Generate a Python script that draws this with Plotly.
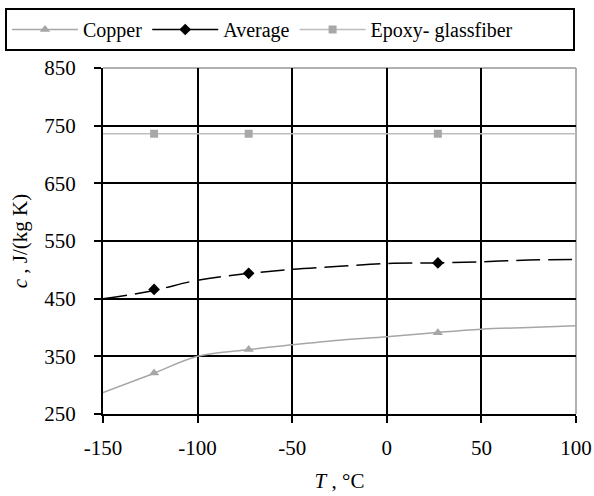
import plotly.graph_objects as go

# ---- data ----
T_curve = [-150, -125, -100, -75, -50, -25, 0, 25, 50, 75, 100]
copper_curve = [287, 318, 350, 361, 370, 378, 384, 391, 397, 400, 403]
average_curve = [450, 463, 482, 493, 501, 506, 511, 512, 514, 517, 518]
epoxy_curve = [736, 736, 736, 736, 736, 736, 736, 736, 736, 736, 736]

T_marks = [-123, -73, 27]
copper_marks = [321, 362, 391]
average_marks = [466, 494, 512]
epoxy_marks = [736, 736, 736]

series_names = ["Copper", "Average", "Epoxy- glassfiber"]

x_ticks = [-150, -100, -50, 0, 50, 100]
y_ticks = [250, 350, 450, 550, 650, 750, 850]

FONT = "Liberation Serif, Times New Roman, serif"
COPPER_C = "#a6a6a6"
EPOXY_LINE_C = "#bdbdbd"
EPOXY_MARK_C = "#a8a8a8"
AVG_C = "#000000"

fig = go.Figure()

styles = [
    dict(name=series_names[0], cx=T_curve, cy=copper_curve, mx=T_marks, my=copper_marks,
         line=dict(color=COPPER_C, width=1.5), marker=dict(symbol="triangle-up", size=9, color=COPPER_C)),
    dict(name=series_names[1], cx=T_curve, cy=average_curve, mx=T_marks, my=average_marks,
         line=dict(color=AVG_C, width=1.5, dash="24px,8px"), marker=dict(symbol="diamond", size=9, color=AVG_C)),
    dict(name=series_names[2] + "\u00a0" * 11, cx=T_curve, cy=epoxy_curve, mx=T_marks, my=epoxy_marks,
         line=dict(color=EPOXY_LINE_C, width=1.5), marker=dict(symbol="square", size=8, color=EPOXY_MARK_C)),
]

for s in styles:
    fig.add_trace(go.Scatter(x=s["cx"], y=s["cy"], mode="lines", line=s["line"],
                             line_shape="spline", showlegend=False, hoverinfo="skip"))
    fig.add_trace(go.Scatter(x=s["mx"], y=s["my"], mode="markers", marker=s["marker"],
                             showlegend=False))
    leg_line = dict(s["line"])
    leg_line.pop("dash", None)
    fig.add_trace(go.Scatter(x=[None], y=[None], mode="lines+markers", name=s["name"],
                             line=leg_line, marker=s["marker"], showlegend=True))

axis_common = dict(
    showgrid=True, gridcolor="#000000", gridwidth=1.5,
    showline=True, linecolor="#000000", linewidth=2,
    ticks="outside", ticklen=7, tickwidth=1.5, tickcolor="#000000",
    zeroline=False, mirror=False,
    tickfont=dict(family=FONT, size=21, color="#000000"),
)

fig.update_xaxes(range=[-150, 100], tickvals=x_ticks, ticktext=[str(v) for v in x_ticks],
                 ticklabelstandoff=7,
                 title=dict(text="<i>T</i> , °C", font=dict(family=FONT, size=21, color="#000"), standoff=14),
                 **axis_common)
fig.update_yaxes(range=[250, 850], tickvals=y_ticks, ticktext=[str(v) for v in y_ticks],
                 ticklabelstandoff=14,
                 title=dict(text="<i>c</i> , J/(kg K)", font=dict(family=FONT, size=21, color="#000"), standoff=11),
                 **axis_common)

# gray plot-area border on top and right (Excel style)
fig.add_shape(type="line", xref="paper", yref="paper", x0=0, x1=1, y0=1, y1=1,
              line=dict(color="#b0b0b0", width=2), layer="between")
fig.add_shape(type="line", xref="paper", yref="paper", x0=1, x1=1, y0=0, y1=1,
              line=dict(color="#b0b0b0", width=2), layer="between")

fig.update_layout(
    width=594, height=496,
    margin=dict(l=103, r=18, t=68, b=82, autoexpand=False),
    paper_bgcolor="white", plot_bgcolor="white",
    font=dict(family=FONT, size=20, color="#000"),
    legend=dict(orientation="h", x=-98 / 473, xanchor="left", y=1 + 60 / 346, yanchor="top",
                bordercolor="#000000", borderwidth=2, bgcolor="white",
                font=dict(family=FONT, size=20, color="#000"),
                itemwidth=66, tracegroupgap=0),
    showlegend=True,
)

fig.write_html("out.html", config={"displayModeBar": False},
               post_script="document.body.style.margin='0px';")
